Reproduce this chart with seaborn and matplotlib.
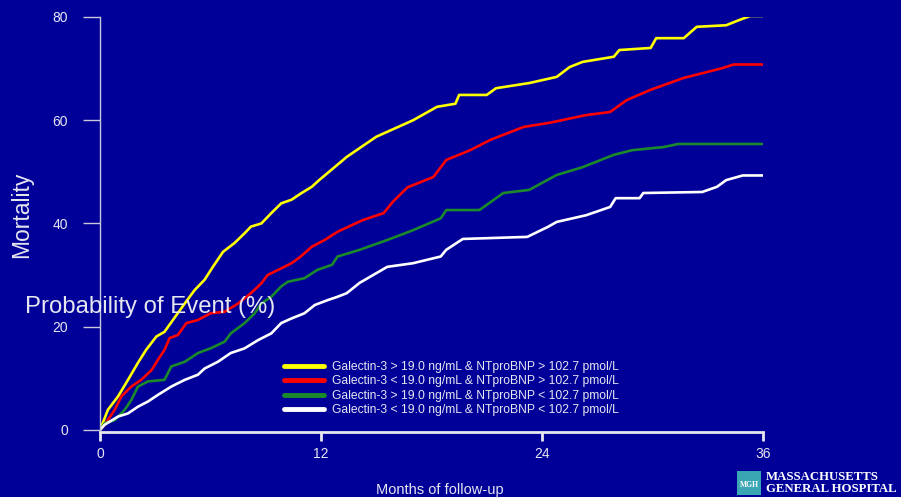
import numpy as np
import pandas as pd
import matplotlib.pyplot as plt
import seaborn as sns
from matplotlib.lines import Line2D
from matplotlib.patches import Rectangle

# cumulative mortality (%)
months_g1 = [0, 0.07, 0.43, 0.98, 1.52, 2.06, 2.5, 3.06, 3.5, 3.96, 4.6, 5.14, 5.68, 6.13,
             6.68, 7.3, 7.85, 8.2, 8.76, 9.3, 9.84, 10.4, 10.9, 11.5, 11.9, 13.4, 15.0,
             17.0, 18.3, 19.3, 19.5, 21.0, 21.5, 23.3, 24.8, 25.5, 26.2, 27.9, 28.2, 29.9,
             30.2, 31.7, 32.4, 34.0, 34.7, 35.3, 36.0]
mort_g1 = [0, 0.6, 3.9, 6.5, 9.7, 13.0, 15.5, 18.1, 19.0, 21.3, 24.5, 27.1, 29.1, 31.6,
           34.5, 36.2, 38.1, 39.4, 40.0, 42.0, 43.9, 44.6, 45.8, 47.1, 48.4, 52.9, 56.8,
           60.0, 62.6, 63.2, 64.9, 64.9, 66.2, 67.2, 68.4, 70.3, 71.3, 72.3, 73.6, 74.0,
           75.9, 75.9, 78.1, 78.4, 79.4, 80.2, 80.2]

months_g2 = [0, 0.25, 0.8, 1.16, 1.7, 2.24, 2.8, 3.15, 3.5, 3.78, 4.23, 4.69, 5.32, 6.0,
             6.77, 7.5, 8.2, 8.76, 9.1, 9.84, 10.4, 10.9, 11.5, 12.2, 12.9, 14.3, 15.4,
             15.9, 16.7, 18.1, 18.8, 20.1, 21.2, 23.0, 24.4, 26.4, 27.7, 28.6, 29.9, 31.7,
             33.8, 34.4, 36.0]
mort_g2 = [0, 1.0, 3.9, 6.5, 8.4, 9.7, 11.6, 13.6, 15.5, 17.8, 18.4, 20.7, 21.3, 22.6,
           22.9, 24.5, 26.5, 28.4, 30.0, 31.3, 32.3, 33.6, 35.5, 36.8, 38.4, 40.7, 42.0,
           44.2, 47.0, 49.0, 52.3, 54.2, 56.2, 58.7, 59.5, 61.0, 61.6, 63.9, 65.9, 68.2,
           70.1, 70.8, 70.8]

months_g3 = [0, 0.25, 0.8, 1.34, 1.7, 2.06, 2.6, 3.5, 3.87, 4.6, 5.32, 6.0, 6.77, 7.1,
             7.85, 8.4, 8.76, 9.3, 9.84, 10.2, 11.1, 11.8, 12.6, 12.9, 14.1, 15.6, 17.0,
             18.5, 18.8, 20.6, 21.9, 23.3, 24.8, 26.2, 27.9, 28.9, 30.6, 31.4, 36.0]
mort_g3 = [0, 1.3, 1.9, 3.9, 5.8, 8.4, 9.4, 9.7, 12.3, 13.2, 14.9, 15.8, 17.1, 18.7,
           20.7, 22.6, 24.5, 25.8, 27.8, 28.7, 29.4, 31.0, 32.0, 33.6, 34.9, 36.8, 38.7,
           41.0, 42.6, 42.6, 45.9, 46.5, 49.4, 50.9, 53.3, 54.2, 54.8, 55.4, 55.4]

months_g4 = [0, 0.25, 0.98, 1.52, 2.06, 2.6, 3.15, 3.87, 4.6, 5.32, 5.68, 6.4, 7.1, 7.85,
             8.58, 9.3, 9.84, 10.4, 11.1, 11.66, 12.4, 12.9, 13.4, 14.1, 15.6, 17.0, 18.5,
             18.8, 19.7, 23.2, 24.3, 24.8, 26.4, 27.7, 28.0, 29.3, 29.5, 32.7, 33.5, 34.0,
             34.9, 36.0]
mort_g4 = [0, 1.0, 2.6, 3.2, 4.5, 5.5, 6.8, 8.4, 9.7, 10.7, 11.9, 13.2, 14.9, 15.8,
           17.4, 18.7, 20.7, 21.6, 22.6, 24.2, 25.2, 25.8, 26.5, 28.5, 31.6, 32.3, 33.6,
           34.9, 37.0, 37.4, 39.3, 40.3, 41.6, 43.2, 44.9, 44.9, 45.9, 46.1, 47.1, 48.4,
           49.3, 49.3]

groups = [
    "Galectin-3 > 19.0 ng/mL & NTproBNP > 102.7 pmol/L",
    "Galectin-3 < 19.0 ng/mL & NTproBNP > 102.7 pmol/L",
    "Galectin-3 > 19.0 ng/mL & NTproBNP < 102.7 pmol/L",
    "Galectin-3 < 19.0 ng/mL & NTproBNP < 102.7 pmol/L",
]
colors = ["#ffff00", "#ff0000", "#1a8a2a", "#ffffff"]

x_ticks = [0, 12, 24, 36]
y_ticks = [0, 20, 40, 60, 80]

bg = "#000099"
fg = "#e6e6f0"

frames = []
for name, m, v in zip(groups, [months_g1, months_g2, months_g3, months_g4],
                      [mort_g1, mort_g2, mort_g3, mort_g4]):
    frames.append(pd.DataFrame({"month": m, "mortality": v, "group": name}))
df = pd.concat(frames, ignore_index=True)

sns.set_style("dark", {"axes.facecolor": bg, "figure.facecolor": bg})
plt.rcParams["font.family"] = ["Liberation Sans", "DejaVu Sans"]

fig = plt.figure(figsize=(9.01, 4.97), dpi=100, facecolor=bg)
ax = fig.add_axes([100 / 901, 65 / 497, 663 / 901, 415 / 497])
ax.set_facecolor(bg)

sns.lineplot(data=df, x="month", y="mortality", hue="group", hue_order=groups,
             palette=colors, estimator=None, sort=False, linewidth=1.9,
             legend=False, ax=ax)

ax.set_xlim(0, 36)
ax.set_ylim(-0.4, 80)
ax.set_xticks(x_ticks)
ax.set_yticks(y_ticks)
ax.grid(False)

for s in ["top", "right"]:
    ax.spines[s].set_visible(False)
ax.spines["left"].set_color("#c8c8dc")
ax.spines["left"].set_linewidth(1.0)
ax.spines["left"].set_bounds(0, 80)
ax.spines["bottom"].set_color(fg)
ax.spines["bottom"].set_linewidth(2.0)

ax.tick_params(axis="y", left=True, direction="out", length=12, width=1.0,
               color="#c8c8dc", pad=11, labelsize=10, labelcolor=fg)
ax.tick_params(axis="x", bottom=True, direction="out", length=6.5, width=2.0,
               color=fg, pad=4, labelsize=10, labelcolor=fg)
ax.set_xlabel("")
ax.set_ylabel("")

fig.text(22 / 901, 1 - 215 / 497, "Mortality", rotation=90, color=fg, fontsize=16.5,
         ha="center", va="center")
fig.text(25 / 901, 1 - 307 / 497, "Probability of Event (%)", color=fg, fontsize=17.2,
         ha="left", va="center")
fig.text(440 / 901, 1 - 490 / 497, "Months of follow-up", color=fg, fontsize=10.5,
         ha="center", va="center")

handles = [Line2D([0], [0], color=c, lw=3.5, solid_capstyle="round") for c in colors]
leg = ax.legend(handles, groups, loc="upper left", bbox_to_anchor=(284 / 901, 1 - 361 / 497),
                bbox_transform=fig.transFigure, frameon=False, fontsize=8.7,
                handlelength=3.3, handletextpad=0.65, labelspacing=0.2,
                borderpad=0, borderaxespad=0)
for t in leg.get_texts():
    t.set_color(fg)

# hospital logo
fig.patches.append(Rectangle((737 / 901, 1 - 495 / 497), 24 / 901, 24 / 497,
                             transform=fig.transFigure, facecolor="#3aa6b4",
                             edgecolor="none"))
fig.text(749 / 901, 1 - 485 / 497, "MGH", color="white", fontsize=5.5,
         ha="center", va="center", family="Liberation Serif", weight="bold")
fig.text(766 / 901, 1 - 477 / 497, "MASSACHUSETTS", color="white", fontsize=9.2,
         ha="left", va="center", family="Liberation Serif", weight="bold")
fig.text(766 / 901, 1 - 489 / 497, "GENERAL HOSPITAL", color="white", fontsize=9.2,
         ha="left", va="center", family="Liberation Serif", weight="bold")

fig.savefig("out.png", dpi=100, facecolor=bg)
